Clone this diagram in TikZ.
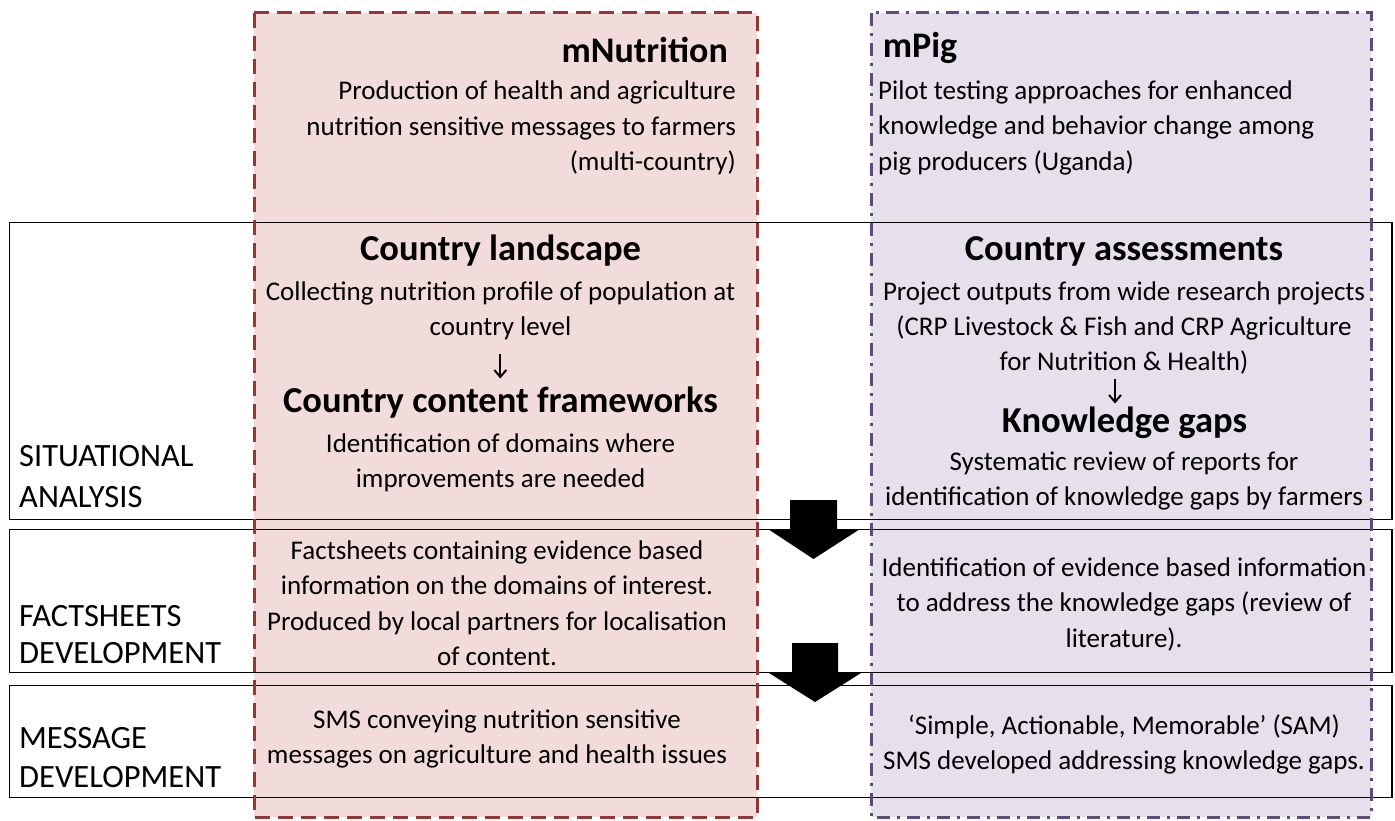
\documentclass[tikz,border=0pt]{standalone}
\usepackage{fontspec}
\setmainfont{Carlito}
\usetikzlibrary{arrows.meta}
\definecolor{nutriline}{HTML}{953735}
\definecolor{nutrifill}{HTML}{F2DCDB}
\definecolor{pigline}{HTML}{604A7B}
\definecolor{pigfill}{HTML}{E5E0EC}
\tikzset{
  rowbox/.style={draw=black, line width=1.3pt},
  nutriborder/.style={draw=nutriline, line width=3pt, dash pattern=on 15pt off 8pt},
  pigborder/.style={draw=pigline, line width=3pt, dash pattern=on 13pt off 7pt on 3pt off 7pt},
  title/.style={font=\fontsize{36}{42}\selectfont\bfseries, inner sep=0pt, anchor=base},
  heading/.style={font=\fontsize{36.5}{42}\selectfont\bfseries, inner sep=0pt, anchor=base},
  body/.style={font=\fontsize{27}{35.6}\selectfont, inner sep=0pt, anchor=base},
  rowlabel/.style={font=\fontsize{32.5}{39}\selectfont, inner sep=0pt, anchor=base west},
  smallarrow/.style={line width=2pt, -{Straight Barb[length=7pt,width=12pt,line width=2pt]}},
  bigarrow/.style={fill=black, draw=none}
}
% one base-anchored node per line: #1 name prefix, #2 x, #3 first baseline,
% #4 anchor, #5 lines (each line in braces)
\newcommand\linestack[5]{%
  \foreach \ln [count=\k] in {#5} {%
    \node[body, anchor=#4] (#1\k) at (#2, {#3+(\k-1)*35.4}) {\ln};}}
\begin{document}
\begin{tikzpicture}[x=1pt, y=-1pt]
\useasboundingbox (0,0) rectangle (1395,821);

% project columns: fills first
\fill[nutrifill] (254,13) rectangle (757,817);
\fill[pigfill] (871,13) rectangle (1371,817);

% stage rows
\draw[rowbox] (9.3,222.3) rectangle (1392,519.5);
\draw[rowbox] (9.3,529.5) rectangle (1392,672.5);
\draw[rowbox] (9.3,685.3) rectangle (1392,797.3);

% column borders on top of the rows
\draw[nutriborder] (254,13) rectangle (757,817);
\draw[pigborder] (871,13) rectangle (1371,817);

% block arrows between stages
\path[bigarrow] (790,500) -- (837,500) -- (837,529) -- (860,529) -- (813.5,559)
  -- (768,529) -- (790,529) -- cycle;
\path[bigarrow] (792,643) -- (838,643) -- (838,673) -- (861,673) -- (815,702)
  -- (769,673) -- (792,673) -- cycle;

% stage labels
\node[rowlabel] (lsit1) at (19,466.7) {SITUATIONAL};
\node[rowlabel] (lsit2) at (19,507.3) {ANALYSIS};
\node[rowlabel] (lfact1) at (19,626) {FACTSHEETS};
\node[rowlabel] (lfact2) at (19,663.3) {DEVELOPMENT};
\node[rowlabel] (lmsg1) at (19,748.3) {MESSAGE};
\node[rowlabel] (lmsg2) at (19,787.3) {DEVELOPMENT};

% mNutrition column
\node[title, anchor=base east] (ntitle) at (728,62.7) {mNutrition};
\linestack{ndesc}{736}{100}{base east}
  {{Production of health and agriculture}, {nutrition sensitive messages to farmers},
   {(multi-country)}}
\node[heading] (nland) at (500.5,261) {Country landscape};
\linestack{nlandtxt}{500.5}{300}{base}
  {{Collecting nutrition profile of population at}, {country level}}
\node[heading] (nframe) at (500.5,412.5) {Country content frameworks};
\linestack{nframetxt}{500.5}{452}{base}
  {{Identification of domains where}, {improvements are needed}}
\coordinate (na1) at (500.3,353.5);
\coordinate (na2) at (500.3,378.5);
\draw[smallarrow] (na1) -- (na2);
\linestack{nfact}{497}{559.5}{base}
  {{Factsheets containing evidence based}, {information on the domains of interest.},
   {Produced by local partners for localisation}, {of content.}}
\linestack{nsms}{497}{728.5}{base}
  {{SMS conveying nutrition sensitive}, {messages on agriculture and health issues}}

% mPig column
\node[title, anchor=base west] (ptitle) at (882.7,57.2) {mPig};
\linestack{pdesc}{878}{99.5}{base west}
  {{Pilot testing approaches for enhanced}, {knowledge and behavior change among},
   {pig producers (Uganda)}}
\node[heading] (passess) at (1124,261) {Country assessments};
\linestack{passesstxt}{1124}{300}{base}
  {{Project outputs from wide research projects}, {(CRP Livestock \& Fish and CRP Agriculture},
   {for Nutrition \& Health)}}
\node[heading] (pgaps) at (1124.5,432) {Knowledge gaps};
\linestack{pgapstxt}{1124}{470}{base}
  {{Systematic review of reports for}, {identification of knowledge gaps by farmers}}
\coordinate (pa1) at (1115,378.5);
\coordinate (pa2) at (1115,403.5);
\draw[smallarrow] (pa1) -- (pa2);
\linestack{pfact}{1124}{576.5}{base}
  {{Identification of evidence based information}, {to address the knowledge gaps (review of},
   {literature).}}
\linestack{psms}{1124}{734.5}{base}
  {{‘Simple, Actionable, Memorable’ (SAM)}, {SMS developed addressing knowledge gaps.}}
\end{tikzpicture}
\end{document}
